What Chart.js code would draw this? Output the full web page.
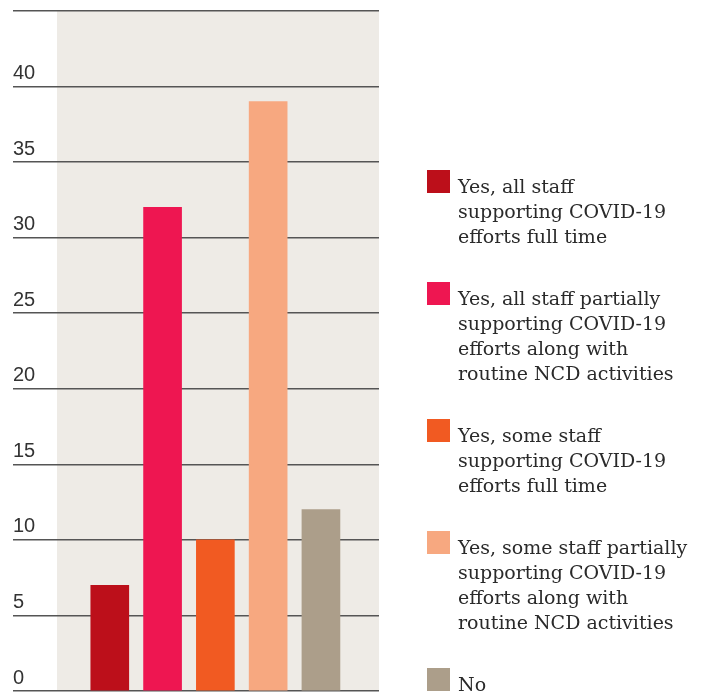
<!DOCTYPE html>
<html>
<head>
<meta charset="utf-8">
<script src="https://cdn.jsdelivr.net/npm/chart.js@4.4.1/dist/chart.umd.min.js"></script>
<style>
  html, body { margin: 0; padding: 0; background: #fff; }
  #wrap { position: relative; width: 703px; height: 693px; overflow: hidden; }
  #c { position: absolute; left: 0; top: 0; }
  #legend { position: absolute; left: 427px; top: 170px; font-family: "DejaVu Serif", serif; font-size: 19px; line-height: 25px; color: #2a2a2a; }
  .item { position: relative; padding-left: 31px; margin-bottom: 33px; white-space: pre-line; padding-top: 4px; }
  .sw { position: absolute; left: 0; top: 0; width: 23px; height: 23px; }
</style>
</head>
<body>
<div id="wrap">
  <canvas id="c" width="703" height="693"></canvas>
  <div id="legend"></div>
</div>
<script>
const categories = [
  "Yes, all staff\nsupporting COVID-19\nefforts full time",
  "Yes, all staff partially\nsupporting COVID-19\nefforts along with\nroutine NCD activities",
  "Yes, some staff\nsupporting COVID-19\nefforts full time",
  "Yes, some staff partially\nsupporting COVID-19\nefforts along with\nroutine NCD activities",
  "No"
];
const values = [7, 32, 10, 39, 12];
const colors = ["#BC0F1A", "#EE1651", "#F15A22", "#F7A880", "#AC9E8A"];
const yTicks = [0, 5, 10, 15, 20, 25, 30, 35, 40, 45];

const panelBg = {
  id: 'panelBg',
  beforeDraw(chart) {
    const { ctx, chartArea: a } = chart;
    ctx.save();
    ctx.fillStyle = '#EEEBE6';
    ctx.fillRect(a.left, a.top, a.right - a.left, a.bottom - a.top);
    ctx.restore();
  }
};

const chart = new Chart(document.getElementById('c'), {
  type: 'bar',
  data: {
    datasets: [{
      data: values.map((v, i) => ({ x: i, y: v })),
      backgroundColor: colors,
      barThickness: 38,
      grouped: false
    }]
  },
  options: {
    responsive: false,
    animation: false,
    layout: { padding: { left: 13, top: 11, bottom: 2, right: 324 } },
    plugins: { legend: { display: false }, tooltip: { enabled: false } },
    scales: {
      x: { type: 'linear', min: -1, max: 5.1, display: false, offset: false },
      y: {
        min: 0, max: 45,
        afterBuildTicks(scale) { scale.ticks = yTicks.map(v => ({ value: v })); },
        afterFit(scale) { scale.width = 44; scale.paddingTop = 0; scale.paddingBottom = 0; },
        border: { display: false },
        grid: { color: '#555', lineWidth: 1.5, tickLength: 44, drawTicks: true },
        ticks: {
          crossAlign: 'far',
          padding: 0,
          labelOffset: -13,
          color: '#333',
          font: { family: 'Liberation Sans', size: 20 },
          callback: (v) => (v === 45 ? '' : String(v))
        }
      }
    }
  },
  plugins: [panelBg]
});

const legend = document.getElementById('legend');
categories.forEach((label, i) => {
  const item = document.createElement('div');
  item.className = 'item';
  const sw = document.createElement('span');
  sw.className = 'sw';
  sw.style.background = colors[i];
  item.appendChild(sw);
  item.appendChild(document.createTextNode(label));
  legend.appendChild(item);
});
</script>
</body>
</html>
